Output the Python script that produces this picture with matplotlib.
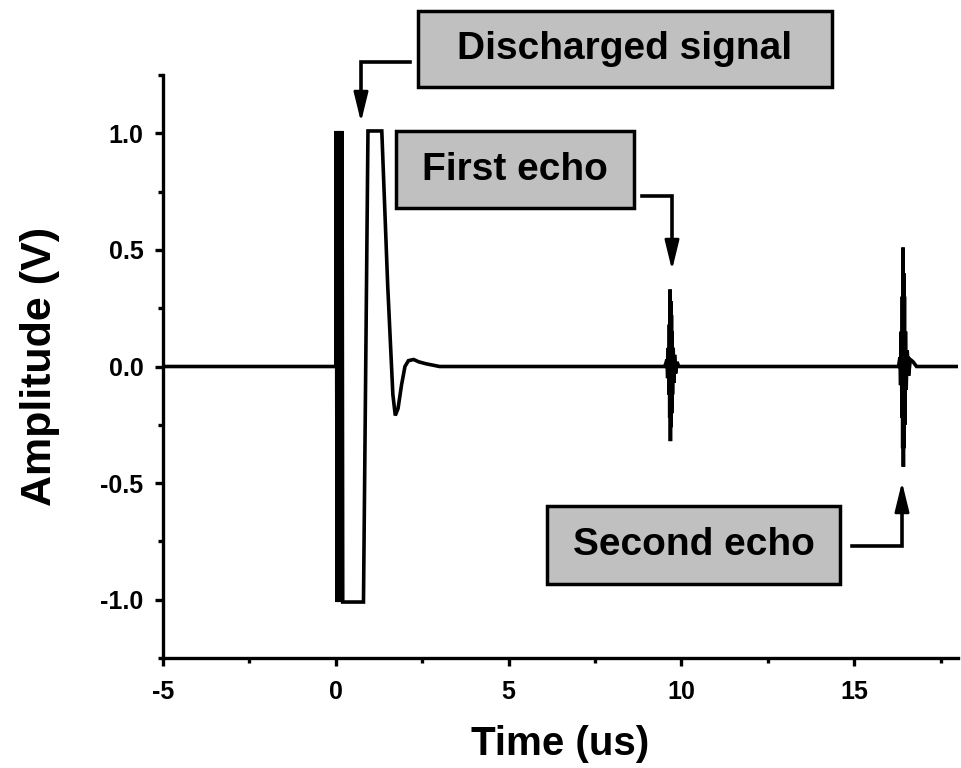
import matplotlib
matplotlib.use("Agg")
import matplotlib.pyplot as plt
from matplotlib.lines import Line2D
from matplotlib.patches import Rectangle, FancyArrowPatch
from matplotlib.ticker import MultipleLocator, FormatStrFormatter

plt.rcParams['font.family'] = ['Liberation Sans', 'DejaVu Sans']
plt.rcParams['font.weight'] = 'bold'

# ── Waveform data ────────────────────────────────────────────────────────────

# baseline + discharged pulse (us, V)
pulse_t = [-5.0, -0.02, 0.00, 0.01, 0.04, 0.07, 0.10, 0.13, 0.16, 0.18, 0.20,
           0.80, 0.93, 1.33, 1.50, 1.65, 1.72, 1.80, 1.90, 2.00, 2.10, 2.25, 2.40,
           2.60, 2.80, 3.00, 3.20, 9.50]
pulse_v = [0.0, 0.0, 0.0, 1.01, -1.01, 1.01, -1.01, 1.01, -1.01, 1.01, -1.01,
           -1.01, 1.01, 1.01, 0.35, -0.12, -0.21, -0.18, -0.08, 0.0, 0.025, 0.03, 0.02,
           0.012, 0.006, 0.0, 0.0, 0.0]

# first echo burst
echo1_t = [9.52, 9.58, 9.60, 9.62, 9.64, 9.65, 9.66, 9.67, 9.68, 9.69, 9.70, 9.71,
           9.72, 9.73, 9.74, 9.76, 9.78, 9.80, 9.83, 9.87, 9.92, 16.25]
echo1_v = [0.0, 0.03, -0.05, 0.08, -0.12, 0.18, -0.22, 0.33, -0.32, 0.28, -0.26, 0.22,
           -0.20, 0.15, -0.12, 0.08, -0.07, 0.05, -0.03, 0.02, 0.0, 0.0]

# second echo burst
echo2_t = [16.28, 16.32, 16.34, 16.36, 16.38, 16.39, 16.40, 16.41, 16.42, 16.43, 16.44,
           16.45, 16.46, 16.48, 16.50, 16.53, 16.57, 16.62, 16.70, 16.80, 18.0]
echo2_v = [0.0, 0.04, -0.08, 0.15, -0.22, 0.30, -0.35, 0.51, -0.43, 0.40, -0.35, 0.30,
           -0.25, 0.15, -0.10, 0.07, -0.04, 0.03, 0.02, 0.0, 0.0]

labels = ["Discharged signal", "First echo", "Second echo"]

# ── Figure ───────────────────────────────────────────────────────────────────

W, H = 961, 768
fig = plt.figure(figsize=(W / 100, H / 100), dpi=100)
ax = fig.add_axes([163 / W, 1 - 658 / H, (958 - 163) / W, (658 - 75) / H])

t = pulse_t + echo1_t + echo2_t
v = pulse_v + echo1_v + echo2_v
ax.plot(t, v, color="black", linewidth=2.6, solid_joinstyle="miter")

ax.set_xlim(-5, 18)
ax.set_ylim(-1.25, 1.25)
ax.xaxis.set_major_locator(MultipleLocator(5))
ax.xaxis.set_minor_locator(MultipleLocator(2.5))
ax.yaxis.set_major_locator(MultipleLocator(0.5))
ax.yaxis.set_minor_locator(MultipleLocator(0.25))
ax.xaxis.set_major_formatter(FormatStrFormatter("%d"))
ax.yaxis.set_major_formatter(FormatStrFormatter("%.1f"))

for side in ["top", "right"]:
    ax.spines[side].set_visible(False)
for side in ["left", "bottom"]:
    ax.spines[side].set_linewidth(2.4)

ax.tick_params(which="major", direction="out", length=6, width=2.4, labelsize=18)
ax.tick_params(which="minor", direction="out", length=3.5, width=2.4)
ax.tick_params(axis="x", which="major", pad=10)
ax.tick_params(axis="y", which="major", pad=8)

ax.set_xlabel("Time (us)", fontsize=29, fontweight="bold", labelpad=15)
ax.set_ylabel("Amplitude (V)", fontsize=31, fontweight="bold", labelpad=29)

# ── Annotation boxes (figure pixel coords, y from top) ──────────────────────

def fx(px):
    return px / W

def fy(py):
    return 1 - py / H

def box(x0, y0, x1, y1, text):
    fig.add_artist(Rectangle((fx(x0), fy(y1)), fx(x1) - fx(x0), fy(y0) - fy(y1),
                             transform=fig.transFigure, facecolor="#c0c0c0",
                             edgecolor="black", linewidth=2.5))
    fig.text(fx((x0 + x1) / 2), fy((y0 + y1) / 2), text, fontsize=28,
             fontweight="bold", ha="center", va="center")

def elbow(points, tip):
    xs = [fx(p[0]) for p in points]
    ys = [fy(p[1]) for p in points]
    fig.add_artist(Line2D(xs, ys, transform=fig.transFigure, color="black",
                          linewidth=2.6, solid_joinstyle="miter"))
    fig.add_artist(FancyArrowPatch(
        (xs[-1], ys[-1]), (fx(tip[0]), fy(tip[1])), transform=fig.transFigure,
        arrowstyle="-|>,head_length=0.9,head_width=0.22", mutation_scale=20,
        color="black", linewidth=2.0, shrinkA=0, shrinkB=0))

box(418, 11, 832, 87, labels[0])
elbow([(410, 62), (361, 62), (361, 100)], (361, 122))

box(396, 131, 634, 208, labels[1])
elbow([(642, 196), (672, 196), (672, 248)], (672, 270))

box(547, 506, 840, 584, labels[2])
elbow([(852, 546), (902, 546), (902, 505)], (902, 482))

fig.savefig("out.png", dpi=100)
